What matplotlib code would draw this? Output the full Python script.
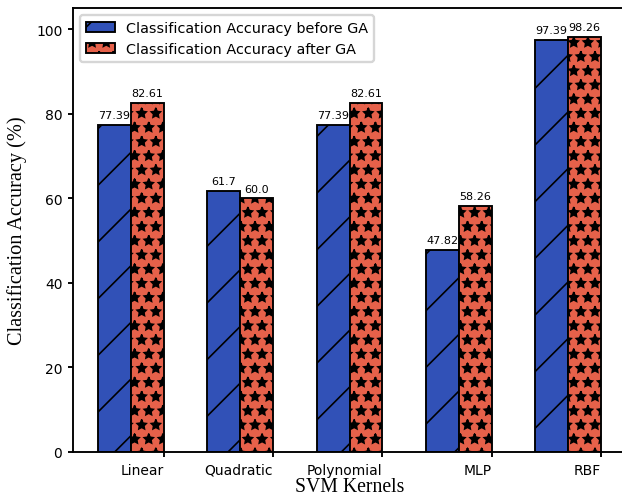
import matplotlib
matplotlib.use("Agg")
import matplotlib.pyplot as plt
import numpy as np

kernels = ["Linear", "Quadratic", "Polynomial", "MLP", "RBF"]
acc_before = [77.39, 61.7, 77.39, 47.82, 97.39]
acc_after = [82.61, 60.0, 82.61, 58.26, 98.26]
label_before = "Classification Accuracy before GA"
label_after = "Classification Accuracy after GA"

DPI = 170
plt.rcParams['hatch.linewidth'] = 0.7
fig = plt.figure(figsize=(622 / DPI, 497 / DPI), dpi=DPI)
ax = fig.add_axes([73 / 622, 44 / 497, 553 / 622, 444 / 497])

x = np.arange(len(kernels))
w = 0.3
b1 = ax.bar(x - w / 2, acc_before, w, color="#3151b7", edgecolor="black",
            linewidth=0.8, hatch="/", label=label_before)
b2 = ax.bar(x + w / 2, acc_after, w, color="#e6614a", edgecolor="black",
            linewidth=0.8, hatch="**", label=label_after)

ax.bar_label(b1, labels=[str(v) for v in acc_before], padding=2, fontsize=4.7)
ax.bar_label(b2, labels=[str(v) for v in acc_after], padding=2, fontsize=4.7)

ax.set_ylim(0, 105)
ax.set_yticks(np.arange(0, 101, 20))
ax.set_xticks(x + w)
ax.set_xticklabels(kernels, ha="right")
ax.tick_params(labelsize=5.9, length=2, pad=2.5)

ax.set_xlabel("SVM Kernels", family="Liberation Serif", fontsize=8.4, labelpad=0)
ax.set_ylabel("Classification Accuracy (%)", family="Liberation Serif", fontsize=8.6,
              labelpad=4)

ax.legend(loc="upper left", fontsize=6.1)

fig.savefig("out.png", dpi=DPI)
